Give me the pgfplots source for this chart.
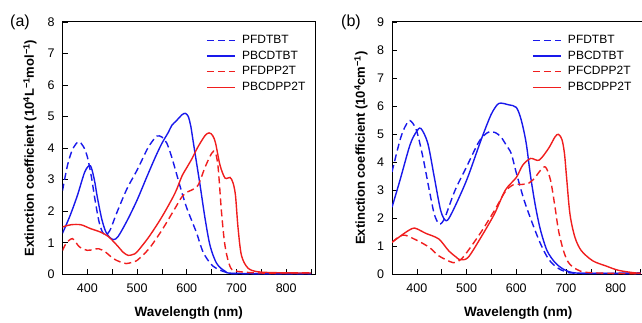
\documentclass[border=0pt]{standalone}
\usepackage{pgfplots}
\pgfplotsset{compat=1.18}
\usepackage{fontspec}
\setmainfont{Liberation Sans}
\definecolor{myblue}{RGB}{25,25,235}
\definecolor{myred}{RGB}{240,30,30}
\pgfplotsset{
  myax/.style={
    scale only axis, width=252.5pt, height=252.5pt,
    anchor=south west,
    xmin=350, xmax=858, ymin=0,
    xtick={400,500,...,800},
    minor xtick={450,550,...,850},
    tick align=inside, xtick pos=bottom, ytick pos=left,
    major tick length=5pt, minor tick length=5pt,
    every tick/.style={black, line width=0.6pt},
    axis line style={black, line width=0.8pt},
    /pgf/number format/assume math mode=true,
    tick label style={font=\fontsize{12.5}{14}\selectfont},
    xticklabel style={yshift=-6pt},
    yticklabel style={xshift=-4.5pt},
    label style={font=\bfseries\fontsize{13}{15}\selectfont},
    xlabel={Wavelength (nm)},
    xlabel style={at={(axis description cs:0.5,-0.153)}, anchor=center, font=\bfseries\fontsize{13.5}{15}\selectfont},
    legend cell align=left,
    legend image code/.code={\draw[#1] (0pt,0pt) -- (28pt,0pt);},
    legend style={draw=none, fill=none, anchor=north west, inner sep=0pt,
      font=\fontsize{12}{14}\selectfont, row sep=1.8pt,
      /tikz/every odd column/.append style={column sep=4.5pt}},
    every axis plot/.append style={line width=1.4pt, smooth},
  },
  bd/.style={myblue, line width=1.4pt, dash pattern=on 7pt off 4pt},
  bs/.style={myblue, line width=1.4pt},
  rd/.style={myred, line width=1.4pt, dash pattern=on 7pt off 4pt},
  rs/.style={myred, line width=1.4pt},
}
\begin{document}
\begin{tikzpicture}
\useasboundingbox (0,0) rectangle (642pt,322pt);
% ---------------- panel (a)
\begin{axis}[myax, at={(62.5pt,47.7pt)}, ymax=8, ytick={0,1,...,8},
  ylabel={Extinction coefficient (10\textsuperscript{4}L\textsuperscript{−1}mol\textsuperscript{−1})},
  ylabel style={at={(axis description cs:-0.129,0.5)}, anchor=center},
  legend style={at={(0.568,0.955)}}]
\addplot[bd] coordinates {(350,2.65) (360,3.45) (370,3.95) (382,4.2) (392,4.05) (400,3.72) (408,3.1) (415,2.4) (423,1.7) (430,1.35) (437,1.24) (445,1.38) (452,1.65) (460,1.98) (480,2.72) (500,3.3) (520,3.95) (530,4.2) (540,4.38) (550,4.35) (560,4.15) (570,3.7) (580,3.15) (590,2.6) (600,2.1) (610,1.7) (620,1.3) (633,0.7) (650,0.3) (667,0.13) (683,0.05) (700,0.02) (850,0.02)};
\addlegendentry{PFDTBT}
\addplot[bs] coordinates {(350,1.3) (365,1.85) (380,2.5) (395,3.25) (406,3.44) (414,3.0) (420,2.45) (429,1.75) (437,1.35) (445,1.17) (453,1.1) (462,1.2) (480,1.7) (500,2.35) (520,3.1) (537,3.72) (550,4.15) (563,4.5) (570,4.72) (580,4.88) (590,5.05) (597,5.1) (603,5.0) (608,4.7) (613,4.2) (618,3.7) (627,2.8) (637,1.75) (647,0.9) (660,0.35) (677,0.1) (697,0.03) (850,0.02)};
\addlegendentry{PBCDTBT}
\addplot[rd] coordinates {(350,0.75) (357,0.97) (370,1.13) (384,0.87) (400,0.76) (413,0.79) (423,0.81) (436,0.71) (452,0.5) (465,0.4) (478,0.34) (490,0.38) (500,0.44) (524,0.81) (550,1.4) (576,2.08) (590,2.45) (600,2.6) (610,2.67) (623,2.83) (637,3.4) (650,3.83) (657,3.88) (663,3.4) (670,1.95) (677,0.9) (687,0.25) (700,0.1) (750,0.04) (850,0.05)};
\addlegendentry{PFDPP2T}
\addplot[rs] coordinates {(350,1.5) (367,1.57) (387,1.57) (406,1.45) (426,1.34) (442,1.2) (459,0.93) (472,0.7) (482,0.6) (492,0.63) (500,0.71) (524,1.19) (550,1.82) (576,2.56) (590,3.1) (600,3.38) (610,3.65) (623,4.05) (637,4.4) (645,4.48) (652,4.4) (658,4.15) (667,3.45) (677,3.05) (687,3.07) (693,2.9) (698,2.5) (703,1.5) (710,0.6) (723,0.2) (743,0.08) (783,0.05) (850,0.04)};
\addlegendentry{PBCDPP2T}
\end{axis}
% ---------------- panel (b)
\begin{axis}[myax, at={(392pt,47.7pt)}, ymax=9, ytick={0,1,...,9},
  ylabel={Extinction coefficient (10\textsuperscript{4}cm\textsuperscript{−1})},
  ylabel style={at={(axis description cs:-0.123,0.5)}, anchor=center},
  legend style={at={(0.554,0.955)}}]
\addplot[bd] coordinates {(350,3.65) (366,4.78) (376,5.25) (386,5.48) (399,5.14) (412,4.19) (425,3.0) (435,2.15) (444,1.8) (451,1.85) (458,2.09) (477,3.0) (500,3.83) (523,4.67) (535,4.95) (546,5.08) (558,5.05) (569,4.9) (580,4.6) (590,4.3) (600,3.62) (616,2.63) (633,1.79) (649,1.08) (665,0.54) (682,0.24) (698,0.1) (720,0.04) (850,0.02)};
\addlegendentry{PFDTBT}
\addplot[bs] coordinates {(350,2.39) (366,3.35) (386,4.6) (398,5.05) (408,5.2) (422,4.67) (435,3.47) (448,2.27) (459,1.91) (471,2.21) (500,3.35) (529,4.78) (549,5.68) (562,6.05) (570,6.1) (585,6.04) (600,5.95) (610,5.5) (620,4.67) (629,3.47) (639,2.39) (649,1.56) (662,0.84) (678,0.42) (695,0.18) (714,0.06) (750,0.03) (850,0.05)};
\addlegendentry{PBCDTBT}
\addplot[rd] coordinates {(350,1.14) (372,1.4) (399,1.22) (425,0.96) (444,0.66) (467,0.45) (477,0.42) (490,0.55) (503,0.84) (529,1.5) (556,2.27) (578,2.95) (595,3.2) (610,3.2) (625,3.25) (636,3.41) (649,3.71) (659,3.82) (669,3.35) (678,2.39) (685,1.56) (695,0.84) (705,0.42) (721,0.18) (747,0.06) (850,0.02)};
\addlegendentry{PFCDPP2T}
\addplot[rs] coordinates {(350,1.14) (373,1.44) (385,1.58) (395,1.65) (406,1.57) (418,1.46) (444,1.26) (464,0.84) (480,0.6) (487,0.52) (503,0.6) (529,1.32) (556,2.15) (578,3.0) (600,3.45) (613,3.89) (629,4.13) (646,4.07) (665,4.49) (678,4.9) (685,4.99) (692,4.8) (697,4.3) (701,3.5) (708,2.15) (718,1.32) (731,0.84) (754,0.48) (780,0.3) (806,0.14) (839,0.05) (850,0.04)};
\addlegendentry{PBCDPP2T}
\end{axis}
\node[font=\fontsize{16}{18}\selectfont] at (20pt,300pt) {(a)};
\node[font=\fontsize{16}{18}\selectfont] at (351pt,300pt) {(b)};
\end{tikzpicture}
\end{document}
